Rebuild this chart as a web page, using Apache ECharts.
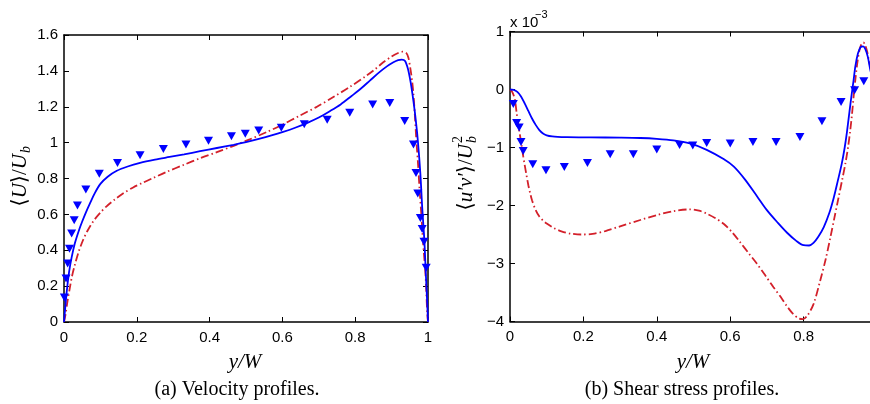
<!DOCTYPE html>
<html><head><meta charset="utf-8">
<script src="https://cdn.jsdelivr.net/npm/echarts@6/dist/echarts.min.js"></script>
<style>html,body{margin:0;padding:0;background:#fff}#c{width:870px;height:404px}</style>
</head><body><div id="c"></div>
<script>
// ---------- (a) Velocity profiles: <U>/U_b vs y/W ----------
const velSolid = [[0,0],[0.007,0.16],[0.014,0.28],[0.021,0.36],[0.03,0.44],[0.04,0.505],[0.05,0.56],[0.06,0.61],[0.071,0.66],[0.085,0.72],[0.1,0.77],[0.12,0.81],[0.145,0.843],[0.175,0.867],[0.209,0.887],[0.25,0.905],[0.29,0.92],[0.33,0.935],[0.374,0.952],[0.42,0.97],[0.466,0.988],[0.5,1.003],[0.538,1.022],[0.57,1.04],[0.602,1.06],[0.635,1.083],[0.667,1.109],[0.7,1.14],[0.73,1.175],[0.76,1.213],[0.79,1.26],[0.815,1.30],[0.841,1.347],[0.865,1.39],[0.887,1.425],[0.905,1.448],[0.918,1.46],[0.928,1.463],[0.937,1.455],[0.945,1.41],[0.952,1.34],[0.958,1.26],[0.965,1.15],[0.972,1.013],[0.979,0.827],[0.984,0.641],[0.99,0.455],[0.994,0.27],[0.998,0.1],[1.0,0]];
const velDashDot = [[0,0],[0.004,0.04],[0.01,0.12],[0.016,0.19],[0.022,0.255],[0.03,0.32],[0.04,0.39],[0.053,0.46],[0.065,0.51],[0.081,0.563],[0.1,0.61],[0.117,0.645],[0.14,0.684],[0.163,0.718],[0.19,0.75],[0.215,0.775],[0.245,0.803],[0.282,0.837],[0.33,0.877],[0.374,0.913],[0.42,0.947],[0.466,0.982],[0.51,1.018],[0.557,1.059],[0.6,1.1],[0.649,1.152],[0.695,1.20],[0.74,1.254],[0.785,1.31],[0.832,1.375],[0.855,1.41],[0.878,1.449],[0.9,1.48],[0.915,1.497],[0.93,1.507],[0.94,1.50],[0.946,1.475],[0.951,1.42],[0.956,1.35],[0.96,1.27],[0.964,1.15],[0.968,1.013],[0.973,0.87],[0.977,0.734],[0.982,0.59],[0.986,0.455],[0.993,0.27],[0.998,0.047],[1,0]];
const velExpX = [0.001,0.0055,0.010,0.015,0.021,0.028,0.037,0.060,0.097,0.147,0.209,0.273,0.335,0.397,0.460,0.498,0.535,0.597,0.660,0.723,0.785,0.848,0.895,0.936,0.960,0.967,0.972,0.979,0.984,0.989,0.995];
const velExpY = [0.136,0.242,0.326,0.409,0.493,0.567,0.650,0.738,0.827,0.886,0.929,0.964,0.989,1.011,1.035,1.050,1.068,1.083,1.102,1.128,1.167,1.213,1.221,1.120,0.989,0.831,0.717,0.580,0.518,0.447,0.303];

// ---------- (b) Shear stress profiles: <u'v'>/U_b^2 (x 10^-3) vs y/W ----------
const shearSolid = [[0,0],[0.01,-0.005],[0.02,-0.04],[0.03,-0.12],[0.04,-0.24],[0.05,-0.37],[0.06,-0.5],[0.07,-0.61],[0.08,-0.7],[0.09,-0.76],[0.1,-0.79],[0.115,-0.81],[0.13,-0.818],[0.155,-0.822],[0.22,-0.826],[0.3,-0.83],[0.355,-0.836],[0.4,-0.85],[0.445,-0.876],[0.49,-0.93],[0.536,-1.04],[0.582,-1.2],[0.61,-1.33],[0.64,-1.55],[0.673,-1.84],[0.7,-2.08],[0.73,-2.3],[0.755,-2.47],[0.78,-2.61],[0.8,-2.685],[0.815,-2.69],[0.827,-2.645],[0.84,-2.54],[0.855,-2.372],[0.87,-2.13],[0.882,-1.87],[0.893,-1.58],[0.904,-1.278],[0.912,-1.0],[0.918,-0.74],[0.925,-0.38],[0.93,-0.13],[0.936,0.15],[0.941,0.4],[0.948,0.62],[0.955,0.73],[0.962,0.745],[0.968,0.70],[0.975,0.563],[0.982,0.333],[0.99,0.15],[1.0,0]];
const shearDashDot = [[0,0],[0.005,-0.03],[0.01,-0.1],[0.014,-0.2],[0.018,-0.4],[0.022,-0.58],[0.027,-0.78],[0.032,-0.98],[0.036,-1.15],[0.04,-1.3],[0.045,-1.48],[0.05,-1.65],[0.055,-1.79],[0.06,-1.91],[0.07,-2.08],[0.08,-2.19],[0.09,-2.26],[0.1,-2.31],[0.12,-2.39],[0.14,-2.445],[0.165,-2.485],[0.195,-2.5],[0.225,-2.49],[0.26,-2.44],[0.3,-2.36],[0.355,-2.25],[0.4,-2.165],[0.445,-2.097],[0.49,-2.067],[0.515,-2.09],[0.536,-2.14],[0.56,-2.22],[0.582,-2.314],[0.605,-2.46],[0.627,-2.632],[0.65,-2.82],[0.673,-3.005],[0.695,-3.2],[0.718,-3.409],[0.74,-3.6],[0.755,-3.74],[0.77,-3.86],[0.786,-3.945],[0.798,-3.96],[0.81,-3.9],[0.827,-3.7],[0.845,-3.3],[0.86,-2.93],[0.873,-2.55],[0.884,-2.21],[0.895,-1.87],[0.905,-1.56],[0.914,-1.27],[0.921,-1.0],[0.927,-0.71],[0.932,-0.42],[0.936,-0.14],[0.941,0.17],[0.946,0.44],[0.952,0.67],[0.958,0.79],[0.963,0.81],[0.968,0.76],[0.973,0.66],[0.978,0.5],[0.985,0.3],[0.993,0.12],[1,0]];
const shearExpX = [0.009,0.018,0.025,0.030,0.036,0.062,0.098,0.148,0.211,0.273,0.336,0.400,0.462,0.498,0.536,0.600,0.662,0.725,0.790,0.850,0.902,0.939,0.964];
const shearExpY = [-0.25,-0.577,-0.657,-0.905,-1.06,-1.29,-1.394,-1.337,-1.268,-1.117,-1.117,-1.036,-0.957,-0.967,-0.922,-0.933,-0.905,-0.905,-0.819,-0.548,-0.214,-0.012,0.143];

// axis ranges [min, max, interval]
const velXRange = [0, 1, 0.2];
const velYRange = [0, 1.6, 0.2];
const shearXRange = [0, 1, 0.2];
const shearYRange = [-4, 1, 1];

const captions = ['(a) Velocity profiles.', '(b) Shear stress profiles.'];
const xName = 'y/W';

const BLUE = '#0000ff', RED = '#d3202a';
const tickFont = {fontFamily: 'Liberation Sans, Arial, sans-serif', fontSize: 15, color: '#000'};
const serif = 'Liberation Serif, DejaVu Serif, serif';

function ax(type, grid, r, pos, showLabel, margin) {
  return {
    type: 'value', gridIndex: grid, min: r[0], max: r[1], interval: r[2], position: pos,
    axisLine: {show: true, onZero: false, lineStyle: {color: '#000', width: 1.5}},
    axisTick: {show: true, inside: true, length: 5, lineStyle: {color: '#000', width: 1}},
    splitLine: {show: false},
    axisLabel: showLabel ? Object.assign({margin: margin, hideOverlap: false, formatter: v => String(+v.toFixed(2)).replace('-', '\u2212')}, tickFont) : {show: false}
  };
}

const pairs = (xs, ys) => xs.map((x, i) => [x, ys[i]]);

const lineSolid = (d, xi, yi) => ({type: 'line', data: d, xAxisIndex: xi, yAxisIndex: yi, showSymbol: false, smooth: 0.3, lineStyle: {color: BLUE, width: 1.8}, z: 3});
const lineDash = (d, xi, yi) => ({type: 'line', data: d, xAxisIndex: xi, yAxisIndex: yi, showSymbol: false, smooth: 0.3, lineStyle: {color: RED, width: 1.8, type: [8, 3, 1.5, 3]}, z: 2});
const markers = (d, xi, yi) => ({type: 'scatter', data: d, xAxisIndex: xi, yAxisIndex: yi, symbol: 'triangle', symbolRotate: 180, symbolSize: [9, 8], itemStyle: {color: BLUE, opacity: 1}, z: 4});

function txt(x, y, text, font, align) {
  return {type: 'text', x: x, y: y, style: {text: text, font: font, fill: '#000', align: align || 'center', verticalAlign: 'middle'}};
}

const chart = echarts.init(document.getElementById('c'), null, {renderer: 'canvas'});
chart.setOption({
  animation: false,
  backgroundColor: '#fff',
  grid: [
    {left: 64, top: 35, width: 364, height: 287, show: false, containLabel: false, outerBoundsMode: 'none'},
    {left: 510, top: 31.5, width: 367, height: 290, show: false, containLabel: false, outerBoundsMode: 'none'}
  ],
  xAxis: [
    ax('x', 0, velXRange, 'bottom', true, 8),
    ax('x', 0, velXRange, 'top', false),
    ax('x', 1, shearXRange, 'bottom', true, 8),
    ax('x', 1, shearXRange, 'top', false)
  ],
  yAxis: [
    ax('y', 0, velYRange, 'left', true, 6),
    ax('y', 0, velYRange, 'right', false),
    ax('y', 1, shearYRange, 'left', true, 6),
    ax('y', 1, shearYRange, 'right', false)
  ],
  series: [
    lineDash(velDashDot, 0, 0),
    lineSolid(velSolid, 0, 0),
    markers(pairs(velExpX, velExpY), 0, 0),
    lineDash(shearDashDot, 2, 2),
    lineSolid(shearSolid, 2, 2),
    markers(pairs(shearExpX, shearExpY), 2, 2)
  ],
  graphic: [
    txt(245, 362, xName, 'italic 21px ' + serif),
    txt(693, 362, xName, 'italic 21px ' + serif),
    txt(237, 390, captions[0], '20px ' + serif),
    txt(682, 390, captions[1], '20px ' + serif),
    txt(510, 23, 'x 10', '15px Liberation Sans, Arial, sans-serif', 'left'),
    txt(535, 15, '\u22123', '11px Liberation Sans, Arial, sans-serif', 'left'),
    {type: 'group', x: 20, y: 182, rotation: Math.PI / 2, children: [
      {type: 'text', x: 28, y: 0, style: {text: '{u|\u27E8}{i|U}{u|\u27E9/}{i|U}', align: 'right', verticalAlign: 'middle', fill: '#000',
        rich: {u: {fontFamily: serif, fontSize: 21, fill: '#000'}, i: {fontFamily: serif, fontStyle: 'italic', fontSize: 21, fill: '#000'}}}},
      {type: 'text', x: 29, y: 6, style: {text: 'b', font: 'italic 14px ' + serif, fill: '#000', align: 'left', verticalAlign: 'middle'}}
    ]},
    {type: 'group', x: 466, y: 178, rotation: Math.PI / 2, children: [
      {type: 'text', x: 34, y: 0, style: {text: '{u|\u27E8}{i|u\u2032v\u2032}{u|\u27E9/}{i|U}', align: 'right', verticalAlign: 'middle', fill: '#000',
        rich: {u: {fontFamily: serif, fontSize: 21, fill: '#000'}, i: {fontFamily: serif, fontStyle: 'italic', fontSize: 21, fill: '#000'}}}},
      {type: 'text', x: 35, y: 6, style: {text: 'b', font: 'italic 14px ' + serif, fill: '#000', align: 'left', verticalAlign: 'middle'}},
      {type: 'text', x: 35, y: -8, style: {text: '2', font: '14px ' + serif, fill: '#000', align: 'left', verticalAlign: 'middle'}}
    ]}
  ]
});
</script></body></html>
